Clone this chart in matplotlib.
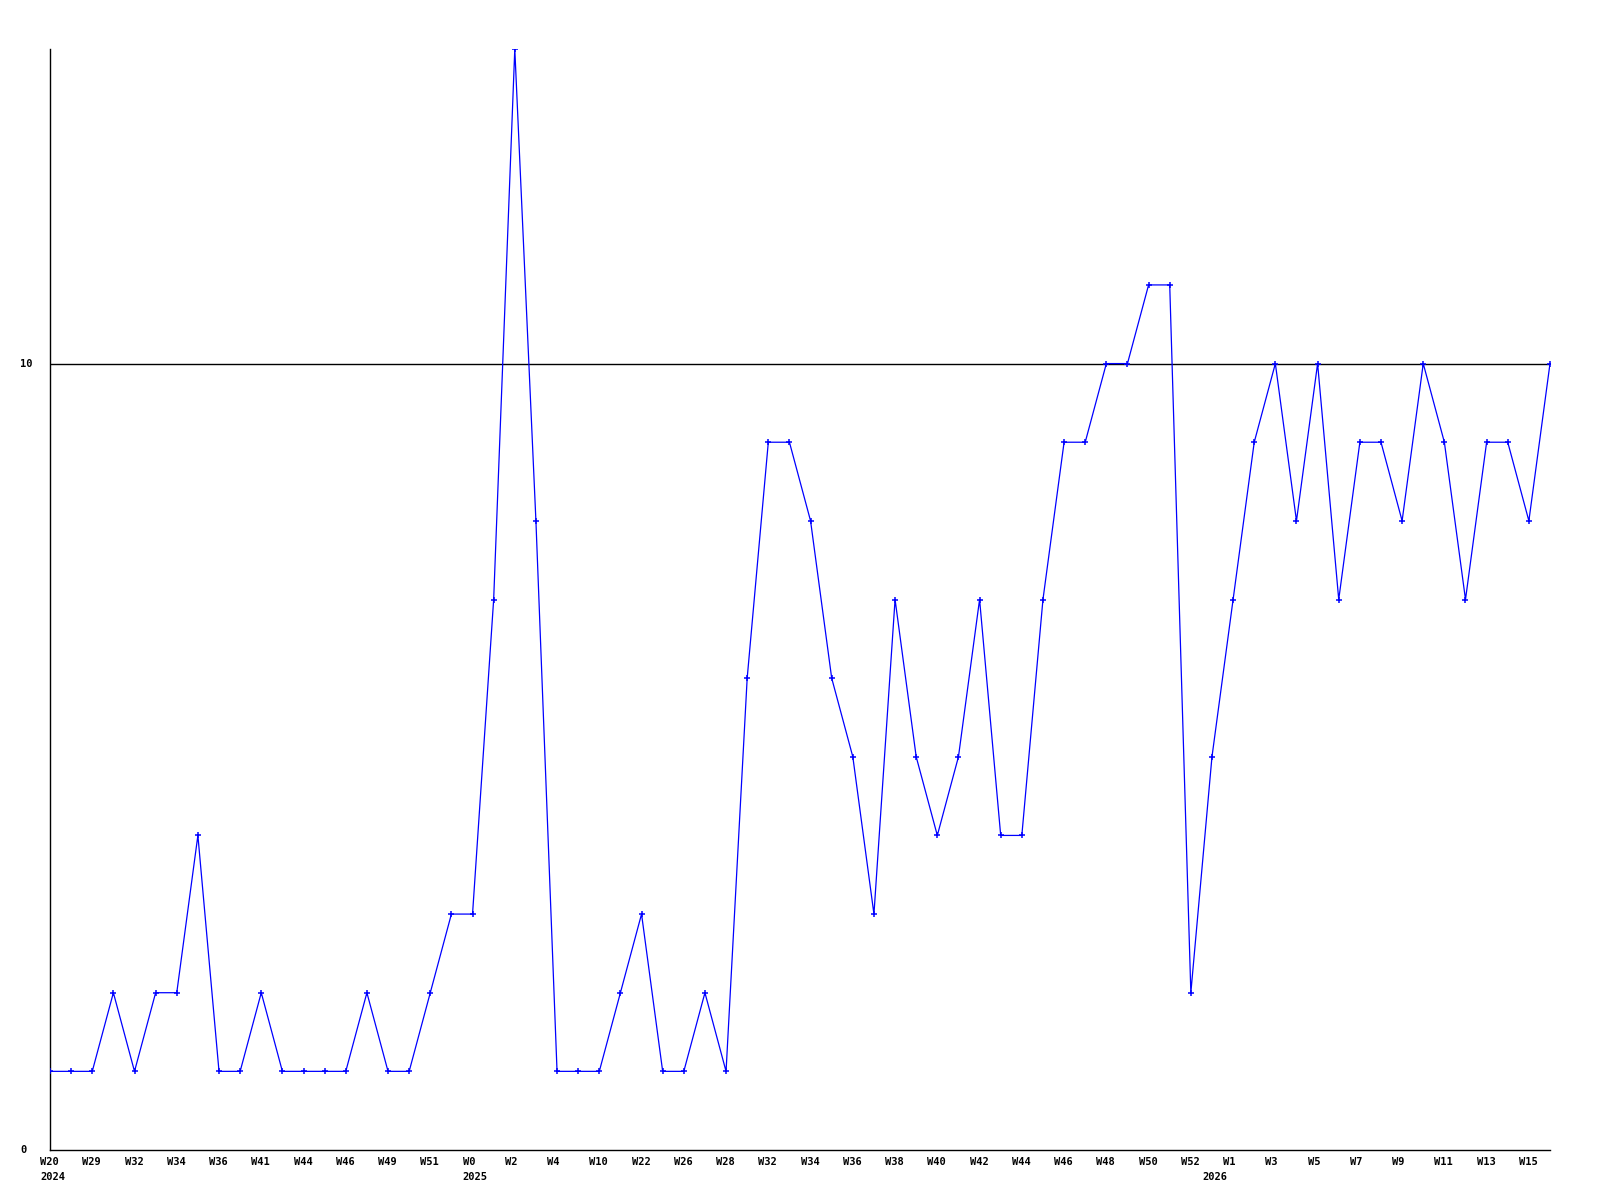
import matplotlib
matplotlib.use("Agg")
import matplotlib.pyplot as plt
import matplotlib.transforms as mtransforms

values = [1, 1, 1, 2, 1, 2, 2, 4, 1, 1, 2, 1, 1, 1, 1, 2, 1, 1, 2, 3,
          3, 7, 14, 8, 1, 1, 1, 2, 3, 1, 1, 2, 1, 6, 9, 9, 8, 6, 5, 3,
          7, 5, 4, 5, 7, 4, 4, 7, 9, 9, 10, 10, 11, 11, 2, 5, 7, 9, 10, 8,
          10, 7, 9, 9, 8, 10, 9, 7, 9, 9, 8, 10]
week_labels = ["W20", "W29", "W32", "W34", "W36", "W41", "W44", "W46", "W49", "W51",
               "W0", "W2", "W4", "W10", "W22", "W26", "W28", "W32", "W34", "W36",
               "W38", "W40", "W42", "W44", "W46", "W48", "W50", "W52", "W1", "W3",
               "W5", "W7", "W9", "W11", "W13", "W15"]
year_labels = {0: "2024", 20: "2025", 55: "2026"}
y_ticks = [0, 10]

fig = plt.figure(figsize=(16, 12), dpi=100)
ax = fig.add_axes([50/1600, 1 - 1150/1200, 1500/1600, (1150 - 49)/1200])
x = list(range(len(values)))
ax.axhline(10, color="black", lw=1.0, zorder=1)
ax.plot(x, values, color="#0000ff", lw=0.9, marker="+", ms=4, mew=1.1, zorder=3)
ax.set_xlim(0, len(values) - 1)
ax.set_ylim(0, 14)
for s in ["top", "right"]:
    ax.spines[s].set_visible(False)
for s in ["left", "bottom"]:
    ax.spines[s].set_color("black")
    ax.spines[s].set_linewidth(1.0)
ax.set_xticks([])
ax.set_yticks([])

font = dict(family="DejaVu Sans Mono", fontweight="bold", fontsize=7.5, color="black")
blend = mtransforms.blended_transform_factory(ax.transData, fig.transFigure)
off = mtransforms.ScaledTranslation(-10/100, 0, fig.dpi_scale_trans)
for i, lab in enumerate(week_labels):
    xi = i * 2
    ax.text(xi, 1 - 1162/1200, lab, transform=blend + off, ha="left", va="center", **font)
for xi, lab in year_labels.items():
    ax.text(xi, 1 - 1177/1200, lab, transform=blend + off, ha="left", va="center", **font)

blend_y = mtransforms.blended_transform_factory(fig.transFigure, ax.transData)
for t in y_ticks:
    ax.text(20/1600, t, str(t), transform=blend_y, ha="left", va="center", **font)

fig.savefig("out.png", dpi=100, facecolor="white")
